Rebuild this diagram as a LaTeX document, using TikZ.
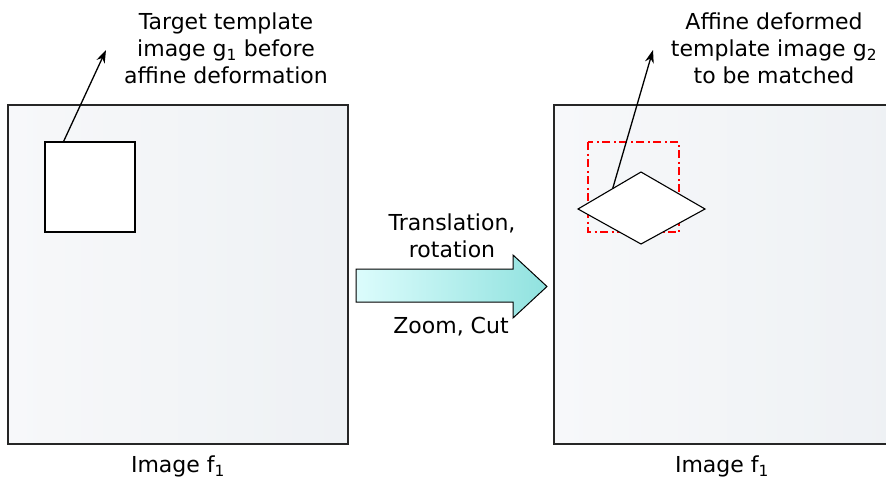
\documentclass[tikz,border=0pt]{standalone}
\usepackage{fontspec}
\setmainfont{DejaVu Sans}
\usetikzlibrary{arrows.meta,calc}
\definecolor{boxL}{HTML}{F7F8FA}
\definecolor{boxR}{HTML}{EEF1F4}
\definecolor{arrL}{HTML}{DCFCFC}
\definecolor{arrR}{HTML}{90E2DF}
\tikzset{
  imgbox/.style={draw=black!85, line width=1.4pt, left color=boxL, right color=boxR},
  lbl/.style={font=\fontsize{22}{27}\selectfont, align=center, inner sep=0pt},
  pointer/.style={draw=black, line width=1.3pt, -{Stealth[length=13pt,width=9pt]}},
  tmpl/.style={draw=black, line width=1.1pt, fill=white},
}
\begin{document}
\begin{tikzpicture}[x=1pt,y=-1pt]
\useasboundingbox (0,0) rectangle (886,480);
\begin{scope}
\clip (0,0) rectangle (886,480);
% image boxes
\path[imgbox] (8,105) rectangle (348,444);
\path[imgbox] (554,105) rectangle (900,444);
\end{scope}
% left template square
\node[tmpl, minimum width=90pt, minimum height=90pt, inner sep=0pt] (sq1) at (90,187) {};
% right: red dash-dot box and diamond
\draw[red, line width=1.3pt, dash pattern=on 8pt off 3.5pt on 2pt off 3.5pt] (588,142) rectangle (679,232);
\draw[tmpl] (578,209) coordinate (dl) -- (641,172) coordinate (dt) -- (705,209) coordinate (dr) -- (641,244) coordinate (db) -- cycle;
% labels
\node[lbl] (t1) at (226,48) {Target template\\image g\textsubscript{1} before\\affine deformation};
\node[lbl] (t2) at (774,48) {Affine deformed\\template image g\textsubscript{2}\\to be matched};
\coordinate (p1) at (106,50);
\coordinate (p2) at (653,50);
\coordinate (s1) at ($(sq1.north west)!0.21!(sq1.north east)$);
\coordinate (s2) at ($(dl)!0.55!(dt)$);
\draw[pointer] (s1) -- (p1);
\draw[pointer] (s2) -- (p2);
% big arrow
\draw[line width=1pt, left color=arrL, right color=arrR]
  (356,269) -- (513,269) -- (513,255) -- (547,286.5) -- (513,318) -- (513,302) -- (356,302) -- cycle;
\node[lbl] (tr) at (452,236) {Translation,\\rotation};
\node[lbl] (zc) at (451,327) {Zoom, Cut};
% bottom labels
\node[lbl] (b1) at (178,466) {Image f\textsubscript{1}};
\node[lbl] (b2) at (722,466) {Image f\textsubscript{1}};
\end{tikzpicture}
\end{document}
